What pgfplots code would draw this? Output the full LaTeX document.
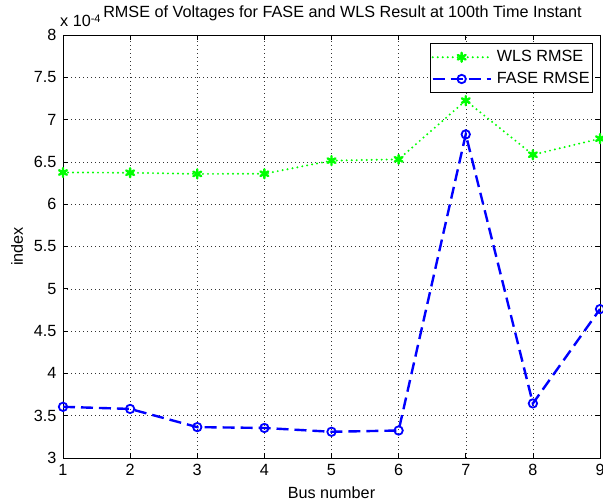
\documentclass[border=0pt]{standalone}
\usepackage{fontspec}
\setmainfont{Liberation Sans}
\usepackage{pgfplots}
\pgfplotsset{compat=1.18}

\definecolor{wlsgreen}{RGB}{0,255,0}
\definecolor{faseblue}{RGB}{0,0,255}

% RMSE values per bus, in units of 1e-4
\pgfplotstableread{
bus wls
1 6.375
2 6.372
3 6.358
4 6.360
5 6.515
6 6.530
7 7.225
8 6.585
9 6.775
}\wlsdata
\pgfplotstableread{
bus fase
1 3.605
2 3.580
3 3.365
4 3.355
5 3.310
6 3.325
7 6.825
8 3.645
9 4.760
}\fasedata

\newcommand{\chartfont}{\fontsize{16.2bp}{19bp}\selectfont}

\begin{document}
\chartfont
\begin{tikzpicture}
\useasboundingbox (-63bp,-46bp) rectangle (540bp,458bp);
\begin{axis}[
  at={(0,0)}, anchor=south west,
  scale only axis, width=537bp, height=423bp,
  xmin=1, xmax=9, ymin=3, ymax=8,
  xtick={1,...,9},
  ytick={3,3.5,4,4.5,5,5.5,6,6.5,7,7.5,8},
  yticklabels={3,3.5,4,4.5,5,5.5,6,6.5,7,7.5,8},
  /pgf/number format/assume math mode=true,
  tick align=inside, major tick length=5bp,
  tick style={black, line width=0.6bp},
  axis line style={black, line width=0.8bp},
  grid=major,
  grid style={black!80, line width=0.5bp, dash pattern=on 1bp off 3bp},
  ticklabel style={font=\chartfont},
  xticklabel style={yshift=-1bp},
  yticklabel style={xshift=-1bp},
  title={RMSE of Voltages for FASE and WLS Result at 100th Time Instant},
  title style={at={(axis description cs:0.5,1)}, anchor=base, yshift=12bp, xshift=11bp, inner sep=0pt},
  xlabel={Bus number},
  ylabel={index},
  xlabel style={at={(axis description cs:0.5,0)}, anchor=base, yshift=-40bp, inner sep=0pt},
  ylabel style={at={([xshift=-40bp]axis description cs:0,0.5)}, anchor=base, inner sep=0pt},
  legend style={
    at={(1,1)}, anchor=north east, xshift=-7bp, yshift=-8bp,
    draw=black, line width=0.8bp, fill=white,
    font=\chartfont,
    inner xsep=1bp, inner ysep=5bp, row sep=4bp, column sep=3bp,
    nodes={inner xsep=2bp},
    cells={anchor=west},
  },
  legend image code/.code={
    \draw[mark repeat=2, mark phase=2, #1]
      plot coordinates {(0bp,0bp) (29bp,0bp) (58bp,0bp)};
  },
]
\addplot[color=wlsgreen, line width=2.2bp, line cap=round,
  dash pattern=on 0bp off 5bp,
  mark=asterisk, mark size=4.5bp,
  mark options={solid, line width=2.4bp}]
  table[x=bus, y=wls] {\wlsdata};
\addlegendentry{WLS RMSE}
\addplot[color=faseblue, line width=2.4bp,
  dash pattern=on 12bp off 6bp,
  mark=o, mark size=4.2bp,
  mark options={solid, line width=1.8bp}]
  table[x=bus, y=fase] {\fasedata};
\addlegendentry{FASE RMSE}
\end{axis}
% exponent of the y axis values
\node[anchor=base west, inner sep=0pt] at (-3bp,431bp)
  {x 10\raisebox{0.55ex}{\fontsize{11bp}{12bp}\selectfont -4}};
\end{tikzpicture}
\end{document}
